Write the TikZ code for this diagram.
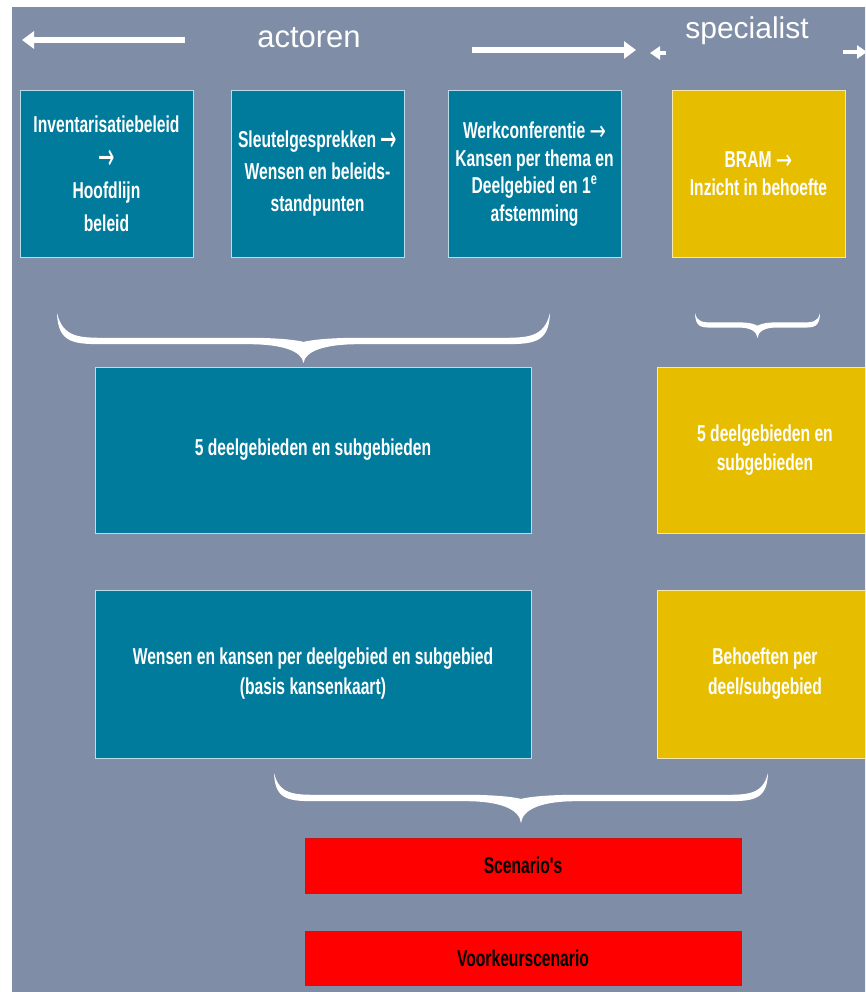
\documentclass[tikz,border=0pt]{standalone}
\usepackage{fontspec}
\usepackage{graphicx}
\setmainfont{Liberation Sans}
\newfontfamily\narrowf{Liberation Sans}[FakeStretch=0.68]
\newfontfamily\arrf{DejaVu Sans}
\newcommand{\rarrbig}{{\arrf\mdseries\raisebox{-4pt}{\scalebox{0.85}[1.6]{→}}}}
\newcommand{\rarr}{{\arrf\mdseries\raisebox{-1.5pt}{\scalebox{0.85}[1.2]{→}}}}
\usetikzlibrary{arrows.meta}
\definecolor{bgc}{RGB}{127,142,166}
\definecolor{tealc}{RGB}{0,123,156}
\definecolor{yelc}{RGB}{231,189,0}
\definecolor{redc}{RGB}{255,0,0}
\definecolor{tealedge}{RGB}{185,222,234}
\definecolor{yeledge}{RGB}{245,232,170}
\definecolor{rededge}{RGB}{200,20,20}
\newcommand{\mybrace}[8]{%
\fill[white] (#1,#3)
 .. controls ({#1+0.12*#7},{#4-#6}) and ({#1+0.45*#7},{#4-#6}) .. ({#1+#7},{#4-#6})
 -- ({(#1+#2)/2-#8},{#4-#6})
 .. controls ({(#1+#2)/2-0.35*#8},{#4-#6}) and ({(#1+#2)/2-0.05*#8},{#4}) .. ({(#1+#2)/2},{#4+0.3*#6})
 .. controls ({(#1+#2)/2+0.05*#8},{#4}) and ({(#1+#2)/2+0.35*#8},{#4-#6}) .. ({(#1+#2)/2+#8},{#4-#6})
 -- ({#2-#7},{#4-#6})
 .. controls ({#2-0.45*#7},{#4-#6}) and ({#2-0.12*#7},{#4-#6}) .. (#2,#3)
 .. controls ({#2-0.02*#7},{#4+#6}) and ({#2-0.35*#7},{#4+#6}) .. ({#2-#7},{#4+#6})
 -- ({(#1+#2)/2+#8},{#4+#6})
 .. controls ({(#1+#2)/2+0.4*#8},{#4+#6}) and ({(#1+#2)/2+0.03*#8},{#4+#6+0.3*(#5-#4)}) .. ({(#1+#2)/2},{#5})
 .. controls ({(#1+#2)/2-0.03*#8},{#4+#6+0.3*(#5-#4)}) and ({(#1+#2)/2-0.4*#8},{#4+#6}) .. ({(#1+#2)/2-#8},{#4+#6})
 -- ({#1+#7},{#4+#6})
 .. controls ({#1+0.35*#7},{#4+#6}) and ({#1+0.02*#7},{#4+#6}) .. (#1,#3)
 -- cycle;}
\tikzset{
  box/.style={line width=1pt, align=center, inner sep=0pt, text=white,
    font=\narrowf\bfseries\fontsize{23}{30}\selectfont},
  tealbox/.style={box, draw=tealedge, fill=tealc},
  yelbox/.style={box, draw=yeledge, fill=yelc},
  redbox/.style={box, draw=rededge, fill=redc, text=black},
  toplabel/.style={text=white, inner sep=0pt, anchor=base},
  bigarrow/.style={white, line width=6pt, -{Triangle[length=12pt,width=17pt]}},
  smallarrow/.style={white, line width=4pt, -{Triangle[length=10pt,width=13pt]}}
}
\begin{document}
\begin{tikzpicture}[x=1pt,y=-1pt]
\useasboundingbox (0,0) rectangle (865,992);
\clip (0,0) rectangle (865,992);
\fill[white] (0,0) rectangle (865,992);
\fill[bgc] (12,7) rectangle (870,1000);

% top labels and arrows
\node[toplabel, font=\fontsize{31}{31}\selectfont] (act) at (309,48) {actoren};
\node[toplabel, font=\fontsize{30}{30}\selectfont] (spec) at (747,39) {specialist};
\coordinate (la1) at (185,40); \coordinate (la2) at (22,40);
\coordinate (ra1) at (472,50); \coordinate (ra2) at (636,50);
\coordinate (sa1) at (666,53); \coordinate (sa2) at (650,53);
\coordinate (pa1) at (843,52); \coordinate (pa2) at (867,52);
\draw[bigarrow] (la1) -- (la2);
\draw[bigarrow] (ra1) -- (ra2);
\draw[smallarrow] (sa1) -- (sa2);
\draw[smallarrow] (pa1) -- (pa2);

% top row
\node[tealbox, minimum width=173pt, minimum height=166pt,
  font=\narrowf\bfseries\fontsize{23}{33}\selectfont] (b1) at (106.5,174)
  {Inventarisatiebeleid\\\rarrbig\\Hoofdlijn\\beleid};
\node[tealbox, minimum width=173pt, minimum height=166pt,
  font=\narrowf\bfseries\fontsize{23}{32}\selectfont] (b2) at (317.5,174)
  {Sleutelgesprekken \rarrbig\\Wensen en beleids-\\standpunten};
\node[tealbox, minimum width=173pt, minimum height=166pt,
  font=\narrowf\bfseries\fontsize{23}{27.5}\selectfont] (b3) at (534.5,174)
  {Werkconferentie \rarr\\Kansen per thema en\\Deelgebied en 1\textsuperscript{e}\\afstemming};
\node[yelbox, minimum width=173pt, minimum height=166pt,
  font=\narrowf\bfseries\fontsize{23}{28}\selectfont] (b4) at (758.5,174)
  {BRAM \rarr\\Inzicht in behoefte};

% braces
\mybrace{57}{550}{313}{341}{363}{3.2}{50}{55}
\mybrace{695}{820}{313}{325}{338}{2.6}{18}{18}
\mybrace{274}{768}{773}{798}{823}{3.2}{45}{55}

% middle row
\node[tealbox, minimum width=436pt, minimum height=166pt] (m1) at (313,450)
  {5 deelgebieden en subgebieden};
\node[yelbox, minimum width=216pt, minimum height=166pt,
  font=\narrowf\bfseries\fontsize{23}{29}\selectfont] (m2) at (765,450)
  {5 deelgebieden en\\subgebieden};

% third row
\node[tealbox, minimum width=436pt, minimum height=168pt] (w1) at (313,674)
  {Wensen en kansen per deelgebied en subgebied\\(basis kansenkaart)};
\node[yelbox, minimum width=216pt, minimum height=168pt] (w2) at (765,674)
  {Behoeften per\\deel/subgebied};

% red boxes
\node[redbox, minimum width=436pt, minimum height=55pt] (s1) at (523,865.5) {Scenario's};
\node[redbox, minimum width=436pt, minimum height=54pt] (s2) at (523,958) {Voorkeurscenario};
\end{tikzpicture}
\end{document}
